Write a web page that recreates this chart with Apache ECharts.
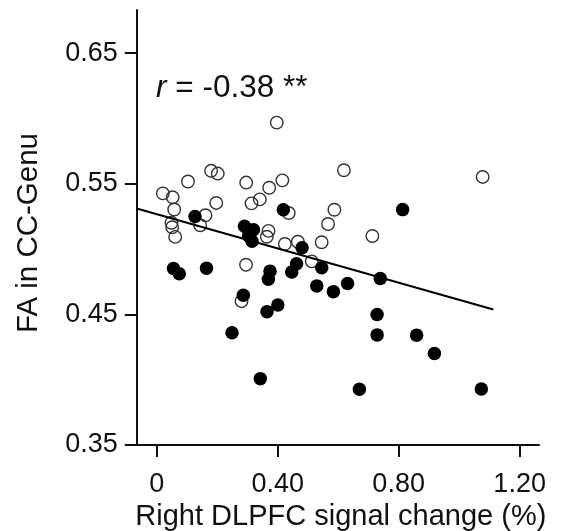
<!DOCTYPE html>
<html>
<head>
<meta charset="utf-8">
<script src="https://cdn.jsdelivr.net/npm/echarts@6/dist/echarts.min.js"></script>
<style>
html,body{margin:0;padding:0;background:#fff;}
#chart{width:566px;height:531px;}
</style>
</head>
<body>
<div id="chart"></div>
<script>
// Tick values
var xTicks = [0, 0.4, 0.8, 1.2];
var yTicks = [0.35, 0.45, 0.55, 0.65];

// Open circles (x, y)
var openX = [0.397,0.180,0.202,0.1035,0.296,0.4155,0.372,0.619,0.0205,0.053,0.197,0.341,0.3136,0.058,0.1614,0.5875,0.4367,0.049,0.0513,0.0612,0.1439,0.5667,0.3698,0.3642,0.4238,0.4668,0.5455,0.7132,0.5127,0.2954,0.2805,1.0777];
var openY = [0.5968,0.5599,0.5578,0.5517,0.5509,0.5526,0.5469,0.5603,0.5426,0.5396,0.5353,0.5380,0.5350,0.5303,0.5259,0.5301,0.5276,0.5201,0.5167,0.5093,0.5182,0.5192,0.5139,0.5094,0.5039,0.5056,0.5052,0.5100,0.4906,0.4880,0.4601,0.5552];

// Filled circles (x, y)
var filledX = [0.1267,0.4188,0.2904,0.3202,0.3037,0.3153,0.4807,0.0556,0.0748,0.1647,0.3748,0.3692,0.4625,0.4466,0.5458,0.5293,0.5842,0.6312,0.7393,0.2865,0.4006,0.3649,0.2491,0.3427,0.7288,0.7288,0.8594,0.9183,0.6702,1.0734,0.8131];
var filledY = [0.5249,0.5301,0.5175,0.5148,0.5102,0.5060,0.5010,0.4851,0.4811,0.4854,0.4831,0.4769,0.4888,0.4825,0.4857,0.4718,0.4674,0.4737,0.4775,0.4647,0.4571,0.4521,0.4359,0.4008,0.4499,0.4343,0.4341,0.4201,0.3926,0.3928,0.5302];

// Regression line endpoints
var fitX = [-0.066, 1.113];
var fitY = [0.531, 0.4537];

function pairs(xs, ys){ return xs.map(function(x,i){ return [x, ys[i]]; }); }

var FONT = "'Liberation Sans', Arial, Helvetica, sans-serif";
var TXT = '#111';

var chart = echarts.init(document.getElementById('chart'), null, {renderer:'canvas'});
chart.setOption({
  animation: false,
  backgroundColor: '#fff',
  grid: {left: 136.7, top: 10, right: 27, bottom: 86, containLabel: false, outerBoundsMode: 'none'},
  title: {
    text: '{i|r} = -0.38 **',
    left: 156, top: 72, padding: 0,
    textStyle: {
      fontFamily: FONT, fontSize: 31.5, fontWeight: 'normal', color: TXT,
      rich: { i: {fontFamily: FONT, fontSize: 31.5, fontStyle: 'italic', color: TXT} }
    }
  },
  xAxis: {
    type: 'value', min: -0.066, max: 1.264,
    splitLine: {show: false},
    axisLine: {show: true, onZero: false, lineStyle: {color: '#111', width: 2}},
    axisTick: {show: true, length: 12, inside: false, customValues: xTicks, lineStyle: {color: '#111', width: 2}},
    axisLabel: {
      customValues: xTicks, margin: 26, fontFamily: FONT, fontSize: 27, color: TXT,
      formatter: function(v){ return v === 0 ? '0' : v.toFixed(2); }
    },
    name: 'Right DLPFC signal change (%)', nameLocation: 'middle', nameGap: 54,
    nameTextStyle: {fontFamily: FONT, fontSize: 29, color: TXT, padding: [0,0,0,6]}
  },
  yAxis: {
    type: 'value', min: 0.35, max: 0.683,
    splitLine: {show: false},
    axisLine: {show: true, onZero: false, lineStyle: {color: '#111', width: 2}},
    axisTick: {show: true, length: 12, inside: false, customValues: yTicks, lineStyle: {color: '#111', width: 2}},
    axisLabel: {
      customValues: yTicks, margin: 19, fontFamily: FONT, fontSize: 27, color: TXT,
      formatter: function(v){ return v.toFixed(2); }
    },
    name: 'FA in CC-Genu', nameLocation: 'middle', nameGap: 93, nameRotate: 90,
    nameTextStyle: {fontFamily: FONT, fontSize: 29.5, color: TXT, padding: [0,11,0,0]}
  },
  series: [
    {
      type: 'scatter', z: 2, symbol: 'circle', symbolSize: 12.5,
      itemStyle: {color: 'rgba(0,0,0,0)', borderColor: '#333', borderWidth: 1.4, opacity: 1},
      data: pairs(openX, openY)
    },
    {
      type: 'line', z: 3, symbol: 'none', silent: true,
      lineStyle: {color: '#000', width: 2},
      data: pairs(fitX, fitY)
    },
    {
      type: 'scatter', z: 4, symbol: 'circle', symbolSize: 13.5,
      itemStyle: {color: '#000', opacity: 1},
      data: pairs(filledX, filledY)
    }
  ]
});
</script>
</body>
</html>
